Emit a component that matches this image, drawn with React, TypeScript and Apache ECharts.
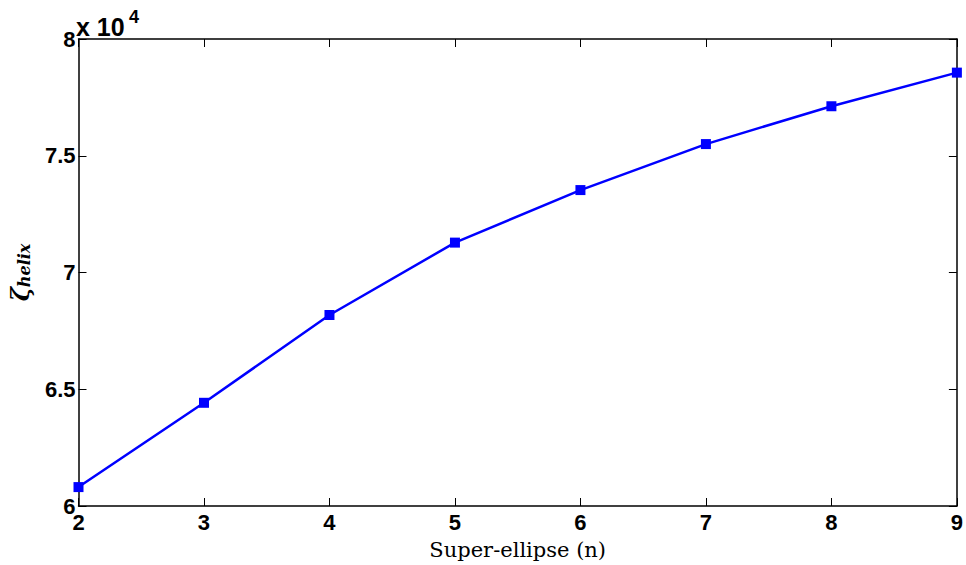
import React, { useEffect, useRef } from "react";
import * as echarts from "echarts";

const nValues = [2, 3, 4, 5, 6, 7, 8, 9];
const zetaHelix = [60810, 64420, 68180, 71280, 73530, 75500, 77120, 78560];

export default function App() {
  const ref = useRef<HTMLDivElement>(null);
  useEffect(() => {
    if (!ref.current) return;
    const chart = echarts.init(ref.current, undefined, { renderer: "svg" });
    const tickFont = { fontFamily: "Liberation Sans", fontWeight: "bold" as const, fontSize: 22, color: "#000" };
    const axisLine = { show: true, lineStyle: { color: "#000", width: 1.5 } };
    const axisTick = { show: true, inside: true, length: 8, lineStyle: { color: "#000", width: 1 } };
    chart.setOption({
      animation: false,
      backgroundColor: "#fff",
      grid: { left: 76, right: 7, top: 39, bottom: 57, containLabel: false },
      xAxis: [
        {
          type: "value", min: 2, max: 9, interval: 1, position: "bottom",
          axisLine, axisTick, splitLine: { show: false },
          axisLabel: { ...tickFont, margin: 5 },
          name: "Super-ellipse (n)", nameLocation: "middle", nameGap: 33,
          nameTextStyle: { fontFamily: "DejaVu Serif", fontSize: 21, color: "#000" },
        },
        {
          type: "value", min: 2, max: 9, interval: 1, position: "top",
          axisLine, axisTick, splitLine: { show: false }, axisLabel: { show: false },
        },
      ],
      yAxis: [
        {
          type: "value", min: 60000, max: 80000, interval: 5000, position: "left",
          axisLine, axisTick, splitLine: { show: false },
          axisLabel: { ...tickFont, margin: 3, formatter: (v: number) => String(v / 10000) },
          name: "{z|ζ}{s|helix}", nameLocation: "middle", nameGap: 46, nameRotate: 90,
          nameTextStyle: {
            rich: {
              z: { fontFamily: "DejaVu Serif", fontStyle: "italic", fontWeight: "bold", fontSize: 24, color: "#000" },
              s: { fontFamily: "DejaVu Serif", fontStyle: "italic", fontWeight: "bold", fontSize: 16, color: "#000", verticalAlign: "bottom", padding: [9, 0, 0, 0] },
            },
          },
        },
        {
          type: "value", min: 60000, max: 80000, interval: 5000, position: "right",
          axisLine, axisTick, splitLine: { show: false }, axisLabel: { show: false },
        },
      ],
      graphic: [
        {
          type: "text", left: 76, top: 14,
          style: { text: "x 10", fontFamily: "Liberation Sans", fontWeight: "bold", fontSize: 25, fill: "#000" },
        },
        {
          type: "text", left: 129, top: 8,
          style: { text: "4", fontFamily: "Liberation Sans", fontWeight: "bold", fontSize: 18, fill: "#000" },
        },
      ],
      series: [
        {
          type: "line",
          xAxisIndex: 0, yAxisIndex: 0,
          data: nValues.map((n, i) => [n, zetaHelix[i]]),
          lineStyle: { color: "#0000ff", width: 2.5 },
          itemStyle: { color: "#0000ff" },
          symbol: "rect", symbolSize: 10, showSymbol: true,
          clip: false,
        },
      ],
    });
    return () => chart.dispose();
  }, []);
  return <div ref={ref} style={{ width: 966, height: 565, position: "absolute", left: 0, top: 0 }} />;
}
